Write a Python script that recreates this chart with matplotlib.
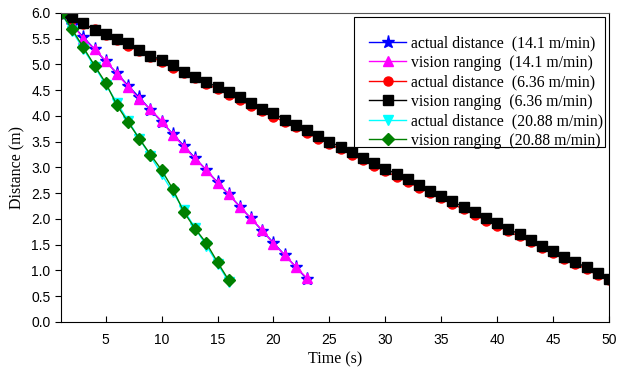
import matplotlib
matplotlib.use("Agg")
import matplotlib.pyplot as plt
from matplotlib.patches import Rectangle

# time axes (s)
t_141 = list(range(1, 24))
t_636 = list(range(1, 51))
t_2088 = list(range(1, 17))

# 14.1 m/min
actual_141 = [6.00, 5.77, 5.53, 5.30, 5.06, 4.83, 4.59, 4.36, 4.12, 3.89, 3.65, 3.42,
              3.18, 2.95, 2.71, 2.48, 2.24, 2.01, 1.77, 1.54, 1.30, 1.07, 0.83]
vision_141 = [6.00, 5.79, 5.50, 5.30, 5.07, 4.82, 4.57, 4.33, 4.13, 3.90, 3.64, 3.40,
              3.17, 2.95, 2.70, 2.48, 2.23, 2.01, 1.78, 1.52, 1.30, 1.07, 0.85]

# 6.36 m/min
actual_636 = [6.00, 5.89, 5.79, 5.68, 5.58, 5.47, 5.36, 5.26, 5.15, 5.05,
              4.94, 4.84, 4.73, 4.62, 4.52, 4.41, 4.31, 4.20, 4.09, 3.99,
              3.88, 3.78, 3.67, 3.56, 3.46, 3.35, 3.25, 3.14, 3.03, 2.93,
              2.82, 2.72, 2.61, 2.50, 2.40, 2.29, 2.19, 2.08, 1.97, 1.87,
              1.76, 1.66, 1.55, 1.44, 1.34, 1.23, 1.13, 1.02, 0.91, 0.81]
vision_636 = [6.00, 5.93, 5.81, 5.67, 5.59, 5.49, 5.41, 5.28, 5.17, 5.09,
              4.99, 4.86, 4.76, 4.66, 4.56, 4.46, 4.36, 4.25, 4.14, 4.05,
              3.93, 3.82, 3.72, 3.61, 3.50, 3.40, 3.30, 3.19, 3.08, 2.98,
              2.87, 2.77, 2.66, 2.55, 2.45, 2.34, 2.23, 2.13, 2.02, 1.92,
              1.81, 1.70, 1.59, 1.48, 1.38, 1.27, 1.16, 1.06, 0.95, 0.83]

# 20.88 m/min
actual_2088 = [6.00, 5.65, 5.30, 4.96, 4.61, 4.26, 3.91, 3.56, 3.22, 2.87,
               2.52, 2.17, 1.82, 1.48, 1.13, 0.78]
vision_2088 = [6.00, 5.68, 5.33, 4.98, 4.64, 4.21, 3.88, 3.56, 3.25, 2.95,
               2.58, 2.13, 1.81, 1.53, 1.16, 0.81]

labels = ['actual distance  (14.1 m/min)', 'vision ranging  (14.1 m/min)',
          'actual distance  (6.36 m/min)', 'vision ranging  (6.36 m/min)',
          'actual distance  (20.88 m/min)', 'vision ranging  (20.88 m/min)']

fig = plt.figure(figsize=(6.25, 3.69), dpi=100)
ax = fig.add_axes([0.0976, 0.1274, 0.8768, 0.8374])

lw = 1.0
ax.plot(t_141, actual_141, '-', color='blue', marker='*', ms=9.5, lw=lw, label=labels[0])
ax.plot(t_141, vision_141, '-', color='magenta', marker='^', ms=7.5, lw=lw, label=labels[1])
ax.plot(t_636, actual_636, '-', color='red', marker='o', ms=6.5, lw=lw, label=labels[2])
ax.plot(t_636, vision_636, '-', color='black', marker='s', ms=6.5, lw=lw, label=labels[3])
ax.plot(t_2088, actual_2088, '-', color='cyan', marker='v', ms=7.5, lw=lw, label=labels[4])
ax.plot(t_2088, vision_2088, '-', color='green', marker='D', ms=6, lw=lw, label=labels[5])

ax.set_xlim(1, 50)
ax.set_ylim(0, 6)
ax.set_xticks(range(5, 51, 5))
ax.set_yticks([i * 0.5 for i in range(13)])
ax.set_yticklabels(['%.1f' % (i * 0.5) for i in range(13)])
ax.tick_params(axis='x', direction='in', length=4, labelsize=10, pad=8)
ax.tick_params(axis='y', direction='out', length=4, labelsize=10)
for lab in ax.get_xticklabels() + ax.get_yticklabels():
    lab.set_family('Liberation Sans')
ax.spines['top'].set_color('#555555')

ax.set_xlabel('Time (s)', family='Liberation Serif', fontsize=11.5, labelpad=3)
ax.set_ylabel('Distance (m)', family='Liberation Serif', fontsize=11.5, labelpad=4)

leg = ax.legend(loc='upper right', bbox_to_anchor=(1.0, 1.0),
                prop={'family': 'Liberation Serif', 'size': 11.3},
                title=' ', title_fontsize=9, frameon=False,
                handlelength=2.4, handletextpad=0.3, labelspacing=0.22,
                borderpad=0.12, borderaxespad=0.25)

# legend frame with the wider left margin of the original
fig.canvas.draw()
bb = leg.get_window_extent()
x0, y0 = fig.transFigure.inverted().transform((bb.x0 - 13, bb.y0 + 3))
x1, y1 = fig.transFigure.inverted().transform((bb.x1, bb.y1))
fig.patches.append(Rectangle((x0, y0), x1 - x0, y1 - y0, transform=fig.transFigure,
                             facecolor='white', edgecolor='black', lw=0.8, zorder=4,
                             figure=fig))
leg.set_zorder(5)
ax.set_zorder(3)
ax.patch.set_visible(False)
leg.remove()
fig.legends.append(leg)
leg.set_figure(fig)

fig.savefig('out.png', dpi=100)
